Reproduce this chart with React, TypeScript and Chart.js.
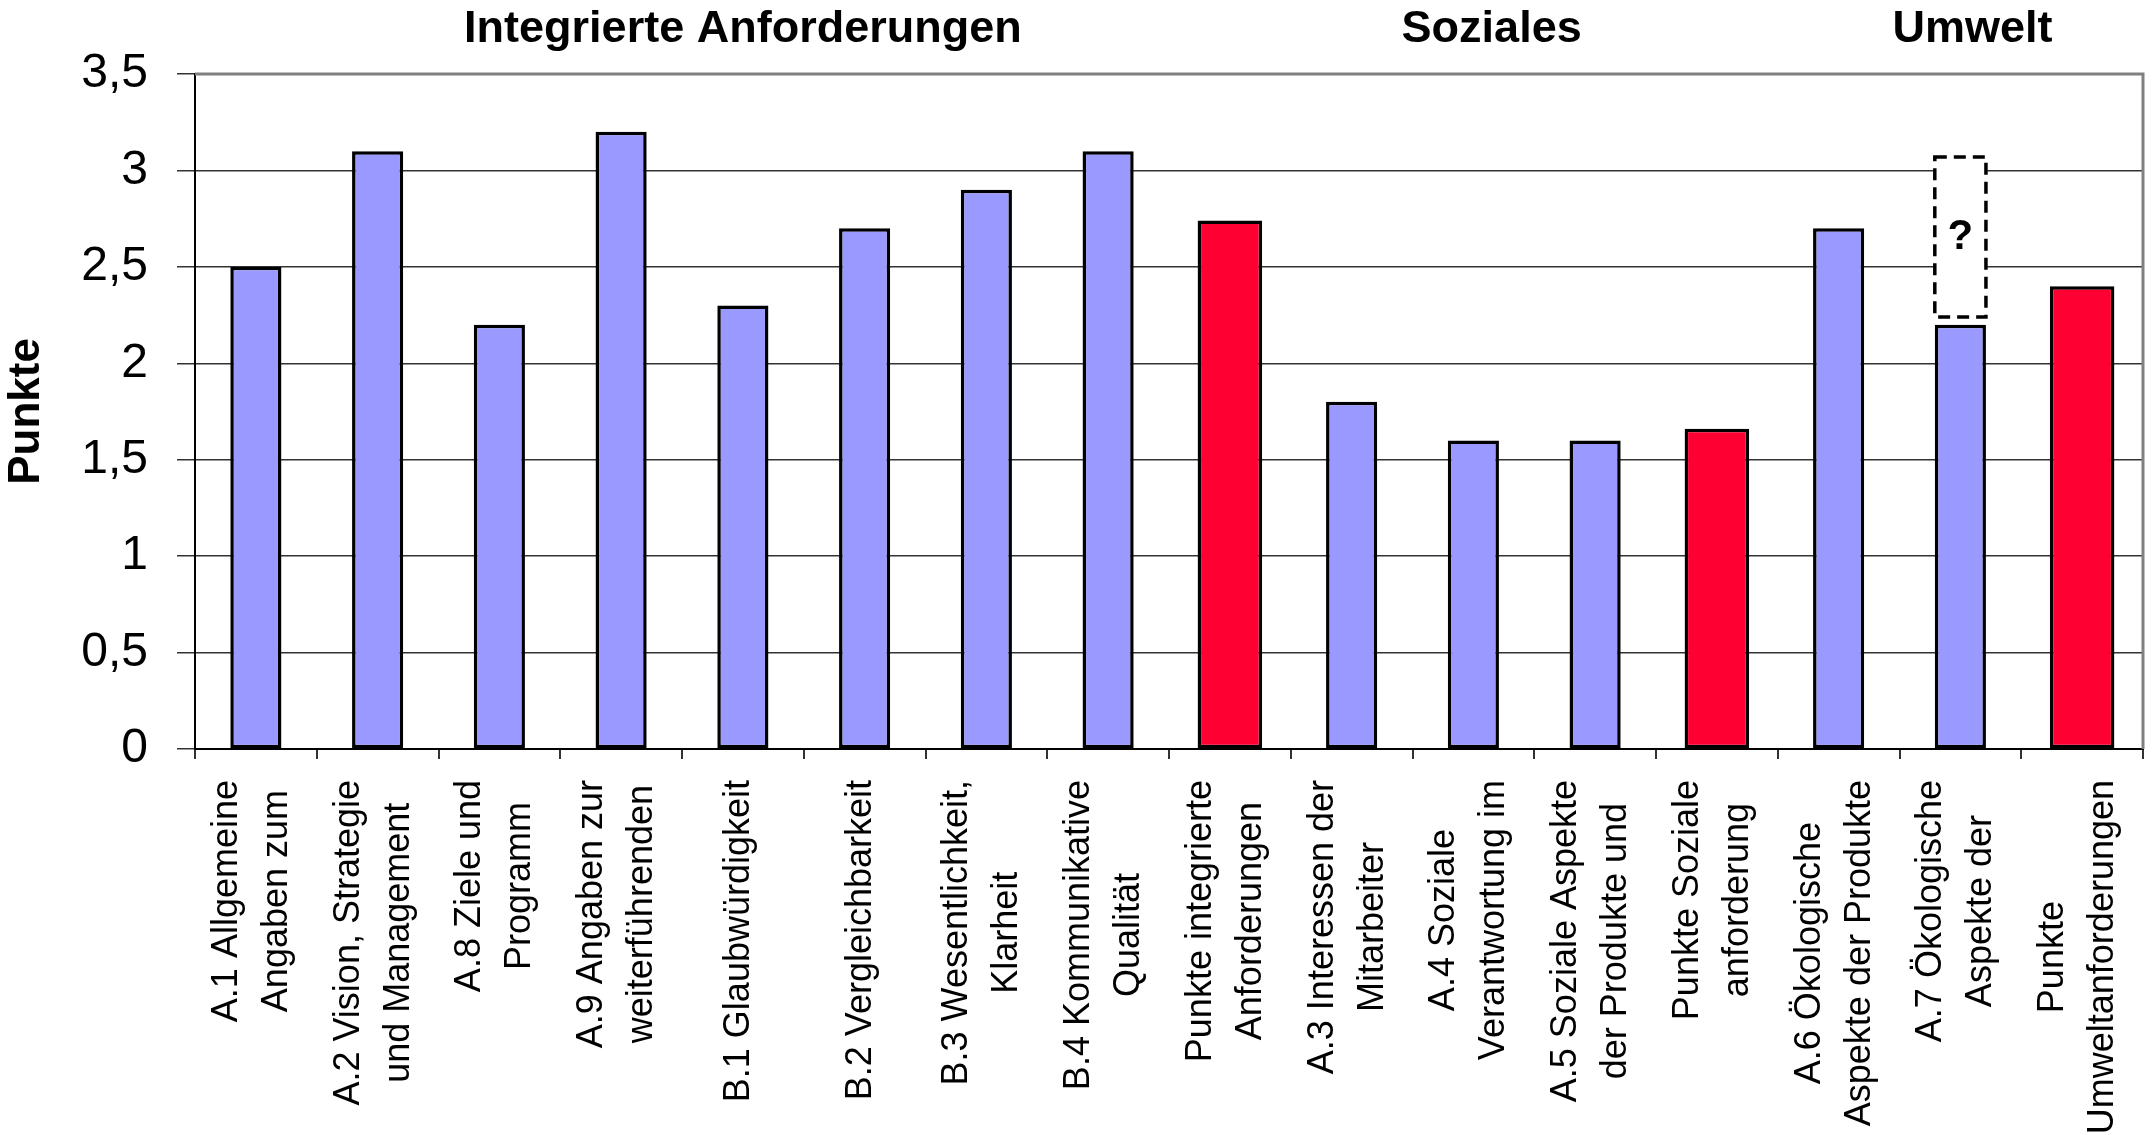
import { useEffect, useRef } from 'react';
import { Chart, registerables } from 'chart.js';

Chart.register(...registerables);

// ---------- data ----------
const categories: string[][] = [
  ['A.1 Allgemeine', 'Angaben zum'],
  ['A.2 Vision, Strategie', 'und Management'],
  ['A.8 Ziele und', 'Programm'],
  ['A.9 Angaben zur', 'weiterführenden'],
  ['B.1 Glaubwürdigkeit'],
  ['B.2 Vergleichbarkeit'],
  ['B.3 Wesentlichkeit,', 'Klarheit'],
  ['B.4 Kommunikative', 'Qualität'],
  ['Punkte integrierte', 'Anforderungen'],
  ['A.3 Interessen der', 'Mitarbeiter'],
  ['A.4 Soziale', 'Verantwortung im'],
  ['A.5 Soziale Aspekte', 'der Produkte und'],
  ['Punkte Soziale', 'anforderung'],
  ['A.6 Ökologische', 'Aspekte der Produkte'],
  ['A.7 Ökologische', 'Aspekte der'],
  ['Punkte', 'Umweltanforderungen'],
];

const criteriaValues: (number | null)[] = [
  2.5, 3.1, 2.2, 3.2, 2.3, 2.7, 2.9, 3.1, null, 1.8, 1.6, 1.6, null, 2.7, 2.2, null,
];

const totalValues: (number | null)[] = [
  null, null, null, null, null, null, null, null, 2.74, null, null, null, 1.66, null, null, 2.4,
];

const yMin = 0;
const yMax = 3.5;
const yStep = 0.5;

const groupLabels = ['Integrierte Anforderungen', 'Soziales', 'Umwelt'];
const groupAnchors = [4, 10.15, 14.1]; // category-index positions

const uncertainIndex = 14;
const uncertainRange = [2.24, 3.07];
const uncertainMark = '?';

const yTitle = 'Punkte';

// ---------- styling ----------
const FONT = '"Liberation Sans", Arial, sans-serif';
const W = 2153;
const H = 1135;
const LABEL_SIZE = 36;
const LABEL_LINE = 50;
const LABEL_GAP = 21; // from tick end to label start

const overlayPlugin = {
  id: 'overlay',
  afterDatasetsDraw(chart: any) {
    const { ctx, chartArea: a, scales } = chart;
    const x = scales.x;
    const y = scales.y;
    ctx.save();

    // dashed "uncertain" box
    const el: any = chart.getDatasetMeta(0).data[uncertainIndex];
    if (el) {
      const w = el.width;
      const cx = el.x;
      const top = y.getPixelForValue(uncertainRange[1]);
      const bot = y.getPixelForValue(uncertainRange[0]);
      ctx.fillStyle = '#ffffff';
      ctx.fillRect(cx - w / 2, top, w, bot - top);
      ctx.setLineDash([12, 7]);
      ctx.lineWidth = 3.5;
      ctx.strokeStyle = '#000000';
      ctx.strokeRect(cx - w / 2, top, w, bot - top);
      ctx.setLineDash([]);
      ctx.fillStyle = '#000000';
      ctx.font = `bold 42px ${FONT}`;
      ctx.textAlign = 'center';
      ctx.textBaseline = 'middle';
      ctx.fillText(uncertainMark, cx, (top + bot) / 2);
    }

    // plot-area frame (top & right)
    ctx.strokeStyle = '#808080';
    ctx.lineWidth = 3;
    ctx.beginPath();
    ctx.moveTo(a.left, a.top);
    ctx.lineTo(a.right, a.top);
    ctx.lineTo(a.right, a.bottom);
    ctx.stroke();

    // group headings
    ctx.fillStyle = '#000000';
    ctx.font = `bold 45px ${FONT}`;
    ctx.textAlign = 'center';
    ctx.textBaseline = 'middle';
    groupLabels.forEach((g, i) => {
      ctx.fillText(g, x.getPixelForValue(groupAnchors[i]), 30);
    });

    // category labels: rotated, lines centred on each other, block top aligned
    ctx.font = `${LABEL_SIZE}px ${FONT}`;
    ctx.textAlign = 'center';
    ctx.textBaseline = 'middle';
    const topY = a.bottom + 10 + LABEL_GAP;
    categories.forEach((lines, i) => {
      const cx = x.getPixelForValue(i) - 4;
      const maxW = Math.max(...lines.map((l) => ctx.measureText(l).width));
      const cy = topY + maxW / 2;
      const n = lines.length;
      lines.forEach((line, j) => {
        const off = (j - (n - 1) / 2) * LABEL_LINE;
        ctx.save();
        ctx.translate(cx + off, cy);
        ctx.rotate(-Math.PI / 2);
        ctx.fillText(line, 0, 0);
        ctx.restore();
      });
    });

    ctx.restore();
  },
};

export default function App() {
  const ref = useRef<HTMLCanvasElement | null>(null);

  useEffect(() => {
    document.body.style.margin = '0';
    const canvas = ref.current;
    if (!canvas) return;

    const chart = new Chart(canvas, {
      type: 'bar',
      data: {
        labels: categories.map((l) => l.join(' ')),
        datasets: [
          {
            data: criteriaValues,
            backgroundColor: '#9999FF',
            borderColor: '#000000',
            borderWidth: 3.5,
            borderSkipped: false,
            barPercentage: 0.42,
            categoryPercentage: 1,
            grouped: false,
          } as any,
          {
            data: totalValues,
            backgroundColor: '#FF0033',
            borderColor: '#000000',
            borderWidth: 3.5,
            borderSkipped: false,
            barPercentage: 0.53,
            categoryPercentage: 1,
            grouped: false,
          } as any,
        ],
      },
      options: {
        responsive: false,
        animation: false,
        devicePixelRatio: 1,
        layout: { padding: { left: 0, top: 74, right: 10, bottom: 0 } },
        plugins: {
          legend: { display: false },
          tooltip: { enabled: false },
        },
        scales: {
          x: {
            ticks: {
              display: false,
              autoSkip: false,
            },
            grid: {
              offset: true,
              drawOnChartArea: false,
              drawTicks: true,
              tickLength: 10,
              color: '#333333',
              lineWidth: 2,
            },
            border: { display: true, color: '#000000', width: 2 },
            afterFit: (s: any) => {
              s.height = 386;
              s.paddingLeft = 0;
              s.paddingRight = 0;
            },
          },
          y: {
            min: yMin,
            max: yMax,
            ticks: {
              stepSize: yStep,
              color: '#000000',
              padding: 29,
              font: { family: FONT, size: 48 },
              callback: (v: any) => String(v).replace('.', ','),
            },
            grid: {
              color: '#333333',
              lineWidth: 1.5,
              drawTicks: true,
              tickLength: 18,
            },
            border: { display: true, color: '#000000', width: 2 },
            title: {
              display: true,
              text: yTitle,
              color: '#000000',
              padding: { top: 0, bottom: 0 },
              font: { family: FONT, size: 44, weight: 'bold' },
            },
            afterFit: (s: any) => {
              s.width = 195;
            },
          },
        },
      } as any,
      plugins: [overlayPlugin],
    });

    return () => chart.destroy();
  }, []);

  return (
    <div style={{ width: W, height: H, background: '#ffffff' }}>
      <canvas ref={ref} width={W} height={H} style={{ display: 'block', width: W, height: H }} />
    </div>
  );
}
